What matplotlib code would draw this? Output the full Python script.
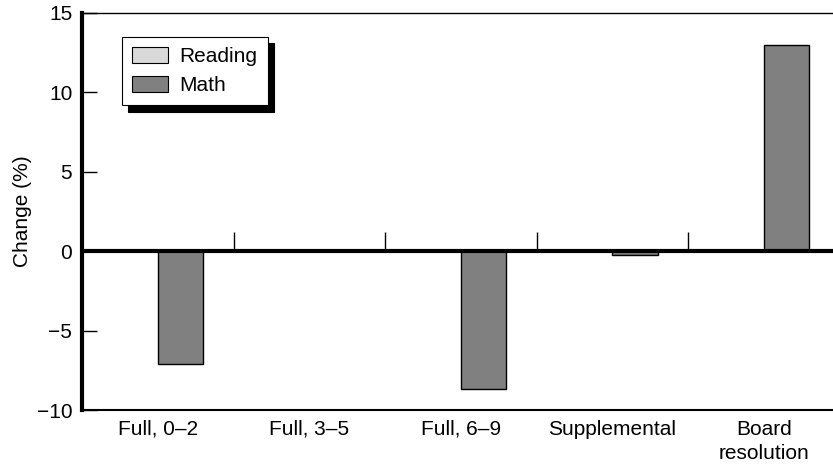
import matplotlib

matplotlib.use("Agg")
import matplotlib.pyplot as plt
import numpy as np
from matplotlib.patches import Patch

plt.rcParams["font.family"] = ["Liberation Sans", "DejaVu Sans"]

categories = ["Full, 0\u20132", "Full, 3\u20135", "Full, 6\u20139", "Supplemental", "Board\nresolution"]
reading = [0.0, 0.0, 0.0, 0.0, 0.0]
math = [-7.1, 0.0, -8.7, -0.25, 13.0]
yticks = [-10, -5, 0, 5, 10, 15]
ytick_labels = ["\u221210", "\u22125", "0", "5", "10", "15"]

READING_COLOR = "#d9d9d9"
MATH_COLOR = "#808080"
FS = 15

fig = plt.figure(figsize=(8.33, 4.68), dpi=100)
ax = fig.add_axes([82 / 833, 1 - 410 / 468, 1 - 82 / 833, (410 - 13) / 468])

x = np.arange(len(categories))
w = 0.30
ax.bar(x - w / 2, reading, width=w, color=READING_COLOR, edgecolor="black", lw=1)
ax.bar(x + w / 2, math, width=w, color=MATH_COLOR, edgecolor="black", lw=1)

ax.axhline(0, color="black", lw=3, zorder=3)
# small separators between category groups
ax.vlines(x[:-1] + 0.5, 0, 1.2, color="black", lw=1)

ax.set_xlim(-0.5, (833 - 82) / 151.5 - 0.5)
ax.set_ylim(-10, 15)
ax.set_yticks(yticks)
ax.set_yticklabels(ytick_labels)
ax.set_xticks(x)
ax.set_xticklabels(categories, linespacing=1.35)
ax.tick_params(axis="y", direction="in", length=11, width=1, labelsize=FS, pad=7)
ax.tick_params(axis="x", length=0, labelsize=FS, pad=7)
ax.set_ylabel("Change (%)", fontsize=FS, labelpad=3)

ax.spines["left"].set_linewidth(3)
ax.spines["bottom"].set_linewidth(1.5)
ax.spines["top"].set_linewidth(1)
ax.spines["right"].set_visible(False)

handles = [Patch(facecolor=READING_COLOR, edgecolor="black", lw=0.8),
           Patch(facecolor=MATH_COLOR, edgecolor="black", lw=0.8)]
leg = ax.legend(handles, ["Reading", "Math"], loc="upper left",
                bbox_to_anchor=(0.053, 0.94), borderaxespad=0, fancybox=False,
                framealpha=1, edgecolor="black", fontsize=FS, handlelength=1.7,
                handleheight=0.8, borderpad=0.5, labelspacing=0.45, handletextpad=0.55,
                shadow={"color": "black", "alpha": 1, "ox": 4.5, "oy": -4.5})
leg.get_frame().set_linewidth(0.8)

fig.savefig("out.png", dpi=100)
